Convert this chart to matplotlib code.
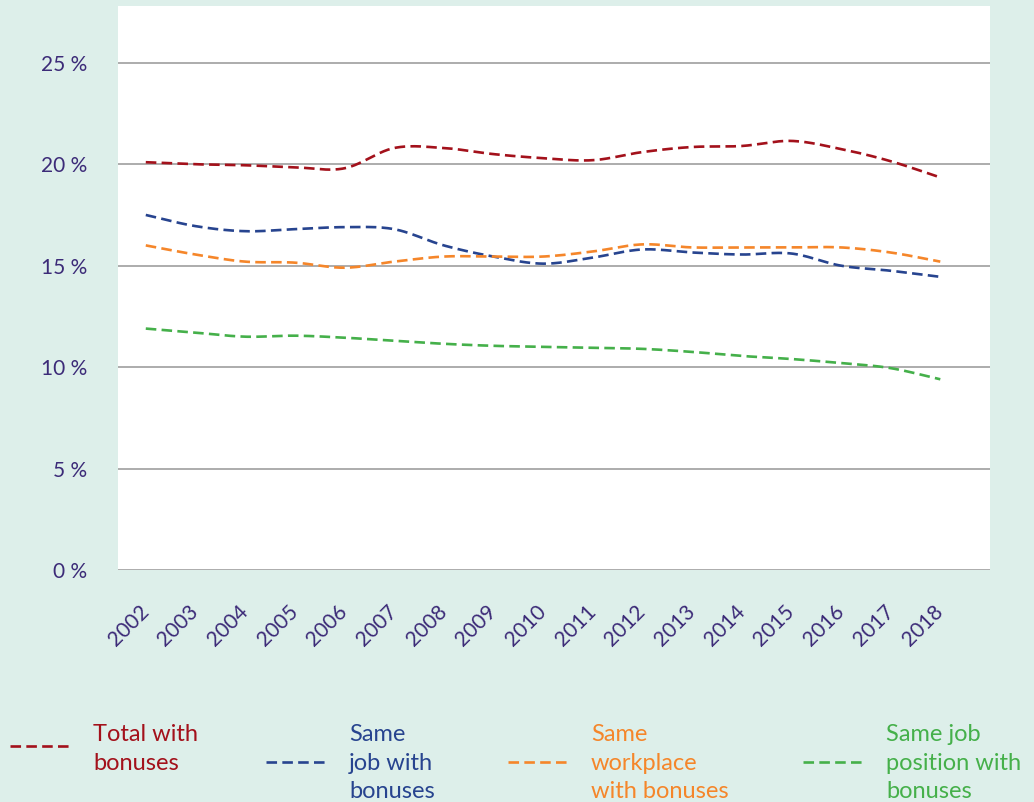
import numpy as np
import matplotlib
matplotlib.use("Agg")
import matplotlib.pyplot as plt
from matplotlib.lines import Line2D

plt.rcParams['font.family'] = ['Lato', 'DejaVu Sans']

years = list(range(2002, 2019))
total_bonus = [20.1, 20.0, 19.95, 19.85, 19.8, 20.8, 20.8, 20.5, 20.3, 20.2, 20.6, 20.85, 20.9, 21.15, 20.75, 20.15, 19.35]
same_job = [17.5, 16.95, 16.7, 16.8, 16.9, 16.8, 16.0, 15.45, 15.1, 15.4, 15.8, 15.65, 15.55, 15.6, 15.0, 14.75, 14.45]
same_workplace = [16.0, 15.55, 15.2, 15.15, 14.9, 15.2, 15.45, 15.45, 15.45, 15.7, 16.05, 15.9, 15.9, 15.9, 15.9, 15.65, 15.2]
same_position = [11.9, 11.7, 11.5, 11.55, 11.45, 11.3, 11.15, 11.05, 11.0, 10.95, 10.9, 10.75, 10.55, 10.4, 10.2, 9.95, 9.4]

labels = ["Total with\nbonuses", "Same\njob with\nbonuses", "Same\nworkplace\nwith bonuses", "Same job\nposition with\nbonuses"]
colors = ["#a3111b", "#27448f", "#f5862a", "#45b04a"]
series = [total_bonus, same_job, same_workplace, same_position]

bg = "#ddefea"
tick_col = "#3c2b78"


def smooth(x, y, n=24):
    # Catmull-Rom spline through the points, like Excel's smoothed lines
    x = np.asarray(x, float)
    y = np.asarray(y, float)
    px = np.concatenate([[2 * x[0] - x[1]], x, [2 * x[-1] - x[-2]]])
    py = np.concatenate([[2 * y[0] - y[1]], y, [2 * y[-1] - y[-2]]])
    xs, ys = [], []
    t = np.linspace(0, 1, n, endpoint=False)
    for i in range(1, len(px) - 2):
        for p, out in ((px, xs), (py, ys)):
            p0, p1, p2, p3 = p[i - 1], p[i], p[i + 1], p[i + 2]
            out.extend(0.5 * (2 * p1 + (-p0 + p2) * t + (2 * p0 - 5 * p1 + 4 * p2 - p3) * t ** 2
                              + (-p0 + 3 * p1 - 3 * p2 + p3) * t ** 3))
    xs.append(x[-1])
    ys.append(y[-1])
    return xs, ys


fig = plt.figure(figsize=(10.34, 8.02), dpi=100, facecolor=bg)
ax = fig.add_axes([0.1141, 0.2893, 0.8433, 0.7032])
ax.set_facecolor("white")

dash = (0, (4, 2))
for vals, c in zip(series, colors):
    sx, sy = smooth(years, vals)
    ax.plot(sx, sy, color=c, lw=1.9, linestyle=dash, zorder=3)

ax.set_xlim(years[0] - 0.56, years[-1] + 1.0)
ax.set_ylim(0, 27.8)
ax.set_yticks([0, 5, 10, 15, 20, 25])
ax.set_yticklabels([f"{v} %" for v in [0, 5, 10, 15, 20, 25]])
ax.yaxis.grid(True, color="#a6a6a6", lw=1.3, zorder=0)
ax.set_axisbelow(True)
for s in ax.spines.values():
    s.set_visible(False)
ax.set_xticks(years)
ax.set_xticklabels([str(y) for y in years], rotation=45, ha="right", va="center",
                   rotation_mode="anchor")
ax.tick_params(axis="both", length=0, labelsize=15, labelcolor=tick_col)
ax.tick_params(axis="y", pad=22)
ax.tick_params(axis="x", pad=28)
for lbl in ax.get_yticklabels():
    lbl.set_va("center_baseline")

# legend below the chart
text_x = [93, 349, 591, 886]
W, H = 1034, 802
for lab, c, tx in zip(labels, colors, text_x):
    fig.text(tx / W, 1 - 724 / H, lab, color=c, fontsize=17, va="top", ha="left",
             linespacing=1.45)
    ly = 746 if lab.count("\n") == 1 else 762
    fig.add_artist(Line2D([(tx - 83) / W, (tx - 22) / W], [1 - ly / H, 1 - ly / H],
                          color=c, lw=1.9, linestyle=dash, transform=fig.transFigure))

fig.savefig("out.png", dpi=100, facecolor=bg)
